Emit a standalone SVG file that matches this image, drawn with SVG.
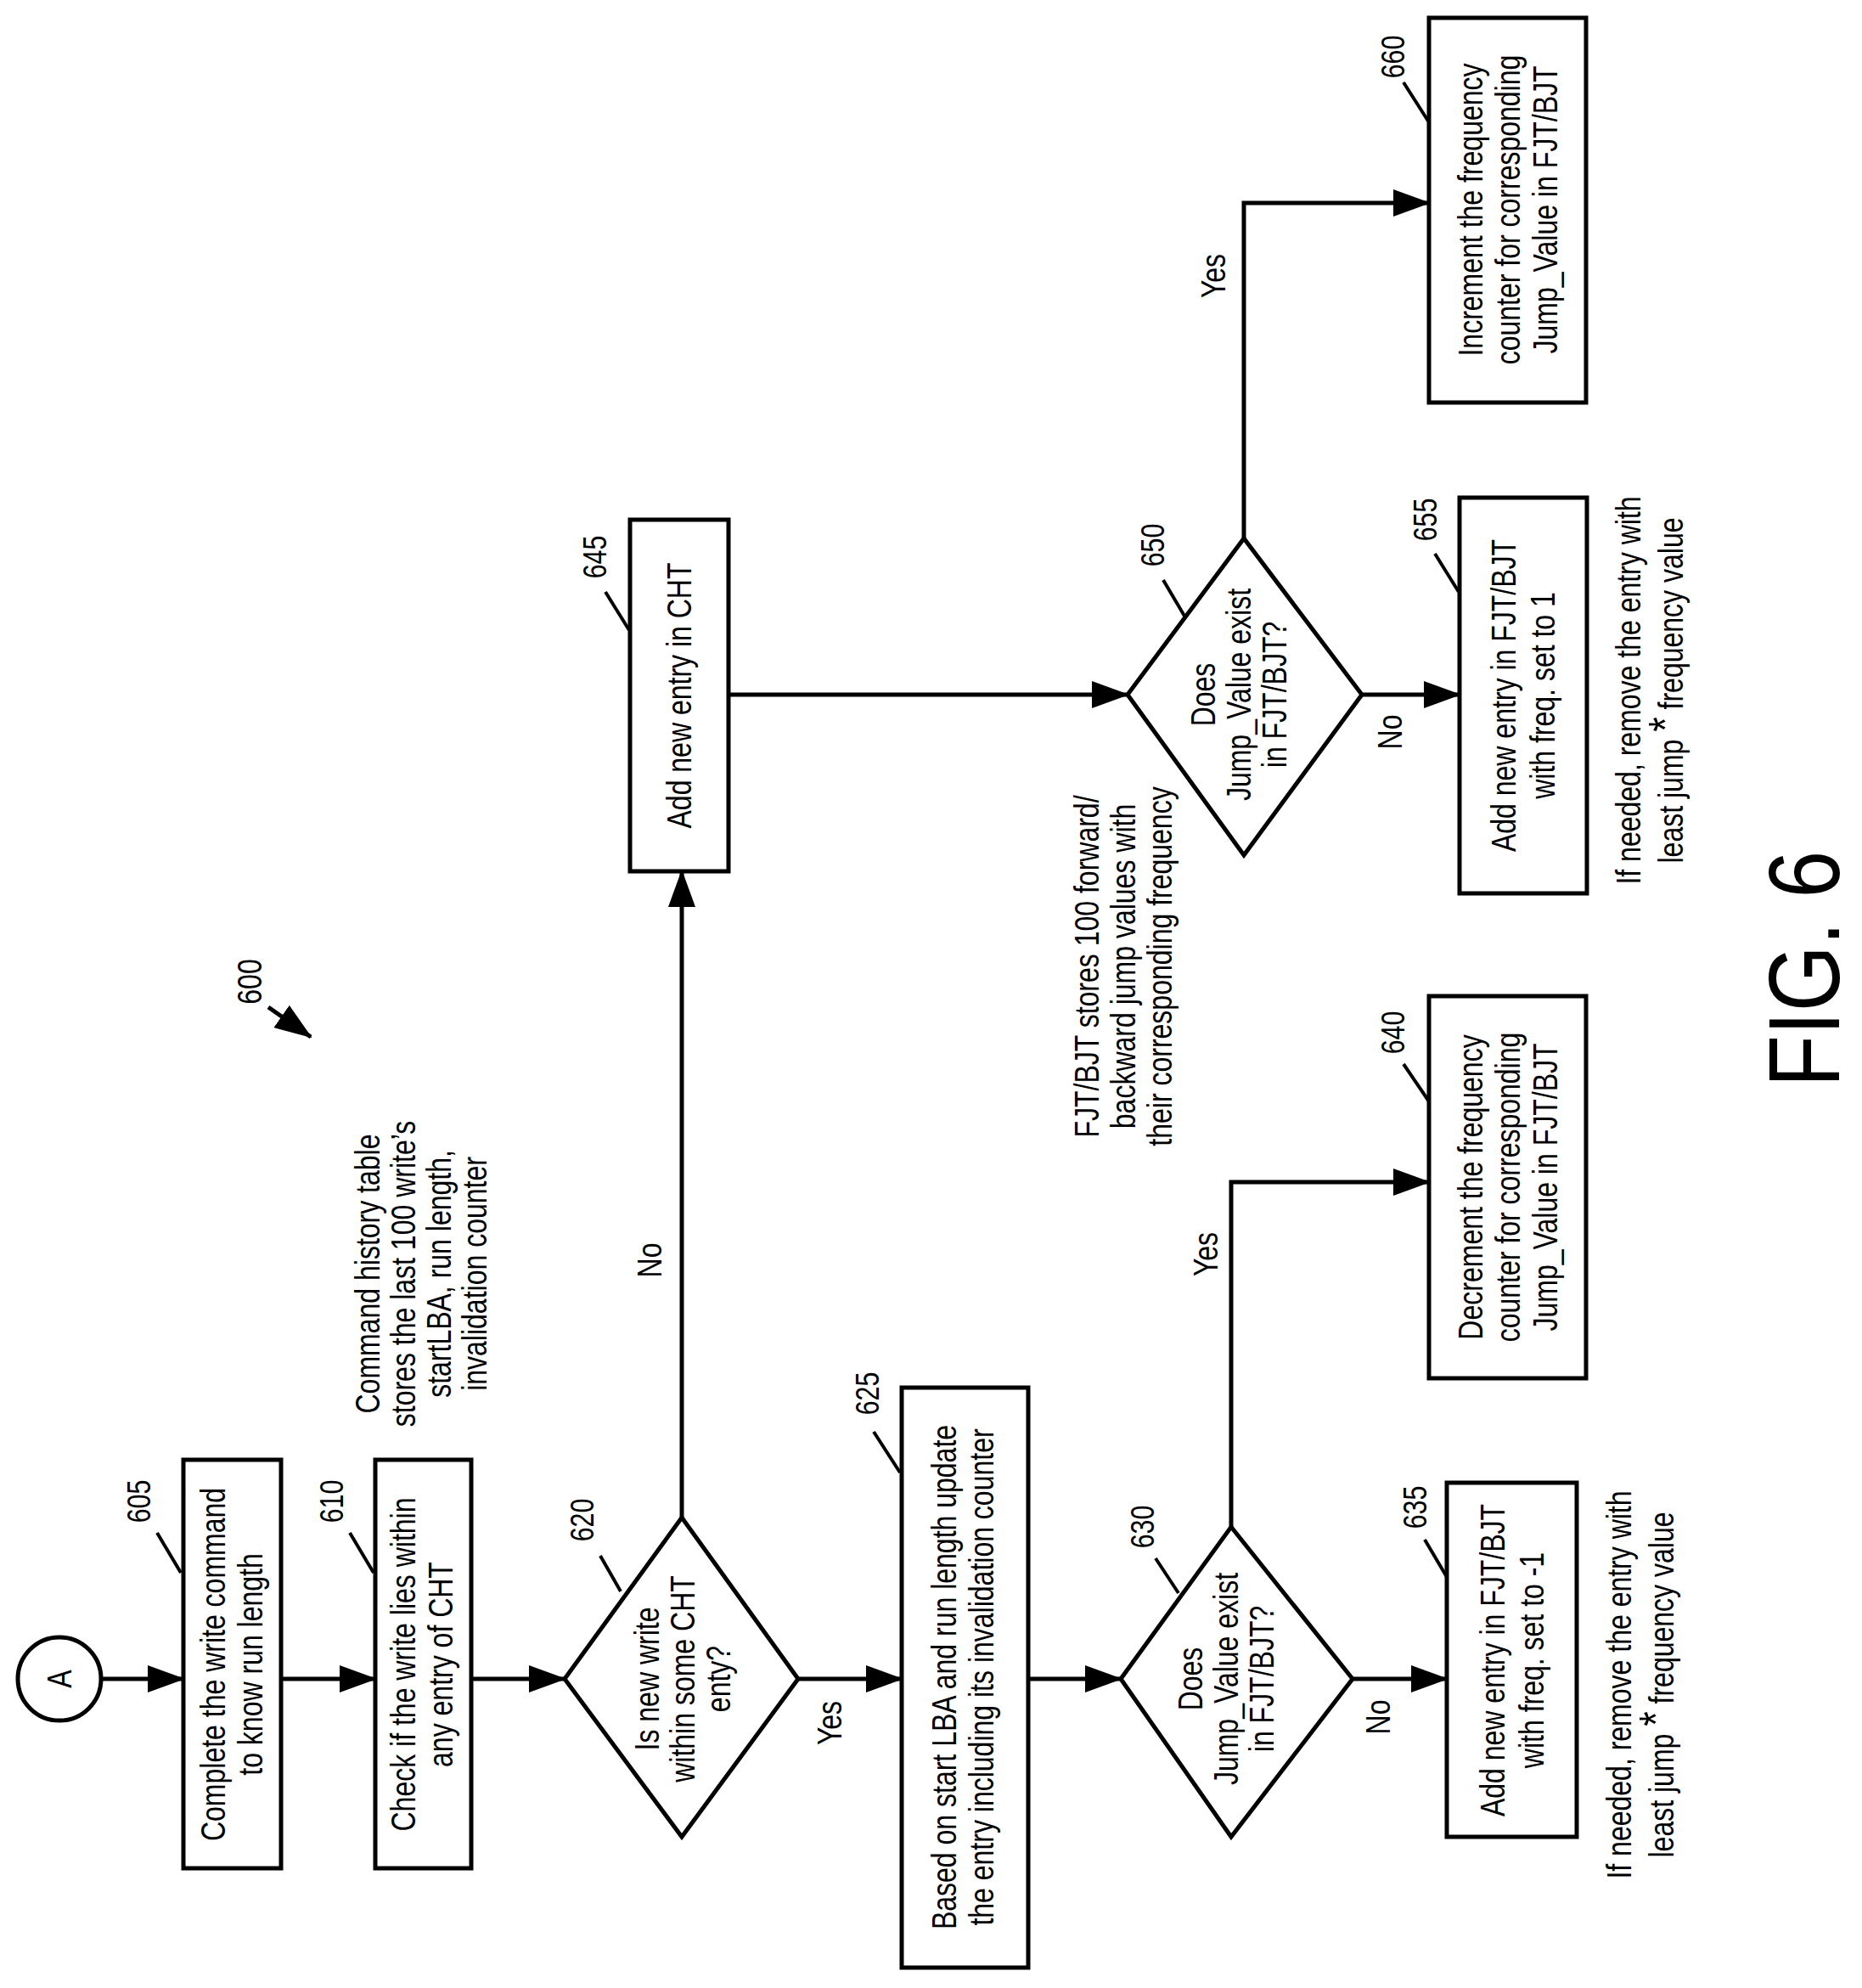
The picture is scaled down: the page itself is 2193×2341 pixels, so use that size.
<svg xmlns="http://www.w3.org/2000/svg" width="2193" height="2341" viewBox="0 0 2193 2341">
<style>
.b{fill:#fff;stroke:#000;stroke-width:5}
.c{fill:none;stroke:#000;stroke-width:5}
.l{fill:none;stroke:#000;stroke-width:4}
text{font-family:"Liberation Sans",Arial,sans-serif;font-size:40px;fill:#000;text-anchor:middle;dominant-baseline:central}
.r{font-size:38px}
.fig{font-size:118px}
</style>
<defs>
<marker id="ah" markerUnits="userSpaceOnUse" markerWidth="44" markerHeight="32" refX="42" refY="16" orient="auto"><path d="M0,0 L44,16 L0,32 Z" fill="#000"/></marker>
</defs>
<rect width="2193" height="2341" fill="#fff"/>
<g id="connectors">
<path class="c" d="M120,1977 H216" marker-end="url(#ah)"/>
<path class="c" d="M331,1977 H442" marker-end="url(#ah)"/>
<path class="c" d="M555,1977 H665" marker-end="url(#ah)"/>
<path class="c" d="M940,1977 H1062" marker-end="url(#ah)"/>
<path class="c" d="M1211,1977 H1320" marker-end="url(#ah)"/>
<path class="c" d="M1593,1977 H1704" marker-end="url(#ah)"/>
<path class="c" d="M1450,1798 V1392 H1683" marker-end="url(#ah)"/>
<path class="c" d="M803,1787 V1026" marker-end="url(#ah)"/>
<path class="c" d="M858,818 H1328" marker-end="url(#ah)"/>
<path class="c" d="M1604,818 H1719" marker-end="url(#ah)"/>
<path class="c" d="M1465,634 V239 H1683" marker-end="url(#ah)"/>
<path class="c" d="M316,1186 L366,1221" marker-end="url(#ah)"/>
<text transform="translate(977,2029) rotate(-90) scale(0.8,1)">Yes</text>
<text transform="translate(765,1484) rotate(-90) scale(0.8,1)">No</text>
<text transform="translate(1420,1477) rotate(-90) scale(0.8,1)">Yes</text>
<text transform="translate(1623,2022) rotate(-90) scale(0.8,1)">No</text>
<text transform="translate(1429,325) rotate(-90) scale(0.8,1)">Yes</text>
<text transform="translate(1637,862) rotate(-90) scale(0.8,1)">No</text>
</g>
<g id="n600"><text transform="translate(294,1156) rotate(-90) scale(0.8,1)">600</text></g>
<g id="nA"><circle class="b" cx="70" cy="1977" r="49"/><text transform="translate(70,1977) rotate(-90) scale(0.8,1)">A</text></g>
<g id="n605"><rect class="b" x="216" y="1719" width="115" height="481"/>
<text transform="translate(273,1960) rotate(-90) scale(0.8,1)"><tspan x="0" y="-22">Complete the write command</tspan><tspan x="0" y="22">to know run length</tspan></text>
<text class="r" transform="translate(164,1768) rotate(-90) scale(0.8,1)">605</text><path class="l" d="M185,1805 L213,1852"/></g>
<g id="n610"><rect class="b" x="442" y="1719" width="113" height="481"/>
<text transform="translate(497,1960) rotate(-90) scale(0.8,1)"><tspan x="0" y="-22">Check if the write lies within</tspan><tspan x="0" y="22">any entry of CHT</tspan></text>
<text class="r" transform="translate(391,1768) rotate(-90) scale(0.8,1)">610</text><path class="l" d="M412,1805 L440,1852"/></g>
<g id="n620"><path class="b" d="M665,1977 L803,1787 L940,1977 L803,2163 Z"/>
<text transform="translate(804,1977) rotate(-90) scale(0.8,1)"><tspan x="0" y="-42">Is new write</tspan><tspan x="0" y="0">within some CHT</tspan><tspan x="0" y="42">enty?</tspan></text>
<text class="r" transform="translate(686,1790) rotate(-90) scale(0.8,1)">620</text><path class="l" d="M707,1832 L731,1874"/></g>
<g id="n625"><rect class="b" x="1062" y="1634" width="149" height="683"/>
<text transform="translate(1134,1975) rotate(-90) scale(0.8,1)"><tspan x="0" y="-22">Based on start LBA and run length update</tspan><tspan x="0" y="22">the entry including its invalidation counter</tspan></text>
<text class="r" transform="translate(1022,1641) rotate(-90) scale(0.8,1)">625</text><path class="l" d="M1029,1686 L1060,1734"/></g>
<g id="n630"><path class="b" d="M1320,1977 L1450,1798 L1593,1977 L1450,2163 Z"/>
<text transform="translate(1444,1977) rotate(-90) scale(0.8,1)"><tspan x="0" y="-42">Does</tspan><tspan x="0" y="0">Jump_Value exist</tspan><tspan x="0" y="42">in FJT/BJT?</tspan></text>
<text class="r" transform="translate(1346,1798) rotate(-90) scale(0.8,1)">630</text><path class="l" d="M1361,1835 L1388,1876"/></g>
<g id="n635"><rect class="b" x="1704" y="1746" width="153" height="417"/>
<text transform="translate(1781,1955) rotate(-90) scale(0.8,1)"><tspan x="0" y="-23">Add new entry in FJT/BJT</tspan><tspan x="0" y="23">with freq. set to -1</tspan></text>
<text class="r" transform="translate(1667,1775) rotate(-90) scale(0.8,1)">635</text><path class="l" d="M1678,1813 L1704,1857"/>
<text transform="translate(1932,1984) rotate(-90) scale(0.8,1)"><tspan x="0" y="-25">If needed, remove the entry with</tspan><tspan x="0" y="25">least jump <tspan font-size="56" dy="-8">*</tspan><tspan dy="8"> frequency value</tspan></tspan></text></g>
<g id="n640"><rect class="b" x="1683" y="1173" width="185" height="450"/>
<text transform="translate(1776,1398) rotate(-90) scale(0.8,1)"><tspan x="0" y="-44">Decrement the frequency</tspan><tspan x="0" y="0">counter for corresponding</tspan><tspan x="0" y="44">Jump_Value in FJT/BJT</tspan></text>
<text class="r" transform="translate(1641,1216) rotate(-90) scale(0.8,1)">640</text><path class="l" d="M1653,1253 L1683,1297"/></g>
<g id="n645"><rect class="b" x="742" y="612" width="116" height="414"/>
<text transform="translate(800,819) rotate(-90) scale(0.8,1)">Add new entry in CHT</text>
<text class="r" transform="translate(701,656) rotate(-90) scale(0.8,1)">645</text><path class="l" d="M713,697 L741,742"/></g>
<g id="n650"><path class="b" d="M1328,818 L1465,634 L1604,818 L1465,1007 Z"/>
<text transform="translate(1459,818) rotate(-90) scale(0.8,1)"><tspan x="0" y="-42">Does</tspan><tspan x="0" y="0">Jump_Value exist</tspan><tspan x="0" y="42">in FJT/BJT?</tspan></text>
<text class="r" transform="translate(1358,642) rotate(-90) scale(0.8,1)">650</text><path class="l" d="M1370,683 L1396,727"/></g>
<g id="n655"><rect class="b" x="1719" y="586" width="150" height="466"/>
<text transform="translate(1794,819) rotate(-90) scale(0.8,1)"><tspan x="0" y="-23">Add new entry in FJT/BJT</tspan><tspan x="0" y="23">with freq. set to 1</tspan></text>
<text class="r" transform="translate(1679,612) rotate(-90) scale(0.8,1)">655</text><path class="l" d="M1690,652 L1718,697"/>
<text transform="translate(1943,813) rotate(-90) scale(0.8,1)"><tspan x="0" y="-25">If needed, remove the entry with</tspan><tspan x="0" y="25">least jump <tspan font-size="56" dy="-8">*</tspan><tspan dy="8"> frequency value</tspan></tspan></text></g>
<g id="n660"><rect class="b" x="1683" y="21" width="185" height="453"/>
<text transform="translate(1776,247) rotate(-90) scale(0.8,1)"><tspan x="0" y="-44">Increment the frequency</tspan><tspan x="0" y="0">counter for corresponding</tspan><tspan x="0" y="44">Jump_Value in FJT/BJT</tspan></text>
<text class="r" transform="translate(1641,67) rotate(-90) scale(0.8,1)">660</text><path class="l" d="M1653,97 L1683,144"/></g>
<g id="notes">
<text transform="translate(496,1500) rotate(-90) scale(0.8,1)"><tspan x="0" y="-63">Command history table</tspan><tspan x="0" y="-21">stores the last 100 write’s</tspan><tspan x="0" y="21">startLBA, run length,</tspan><tspan x="0" y="63">invalidation counter</tspan></text>
<text transform="translate(1323,1138) rotate(-90) scale(0.8,1)"><tspan x="0" y="-43">FJT/BJT stores 100 forward/</tspan><tspan x="0" y="0">backward jump values with</tspan><tspan x="0" y="43">their corresponding frequency</tspan></text>
<text class="fig" transform="translate(2125,1141) rotate(-90) scale(0.85,1)">FIG. 6</text>
</g>
</svg>
